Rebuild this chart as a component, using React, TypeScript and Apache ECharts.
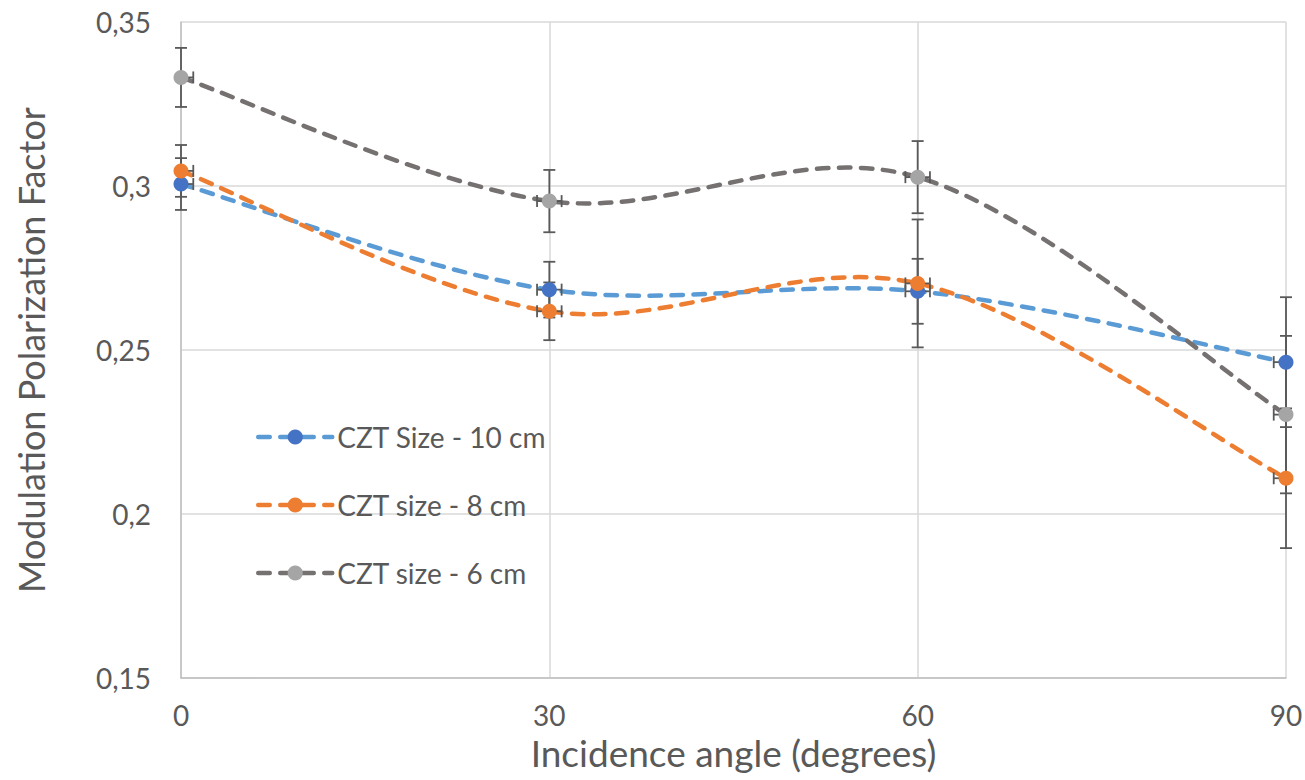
import React, { useEffect, useRef } from "react";
import * as echarts from "echarts";

// Incidence angles (degrees)
const angles = [0, 30, 60, 90];

// Modulation polarization factor per CZT size
const size10 = [0.3006, 0.2684, 0.2679, 0.2463];
const size8 = [0.3046, 0.2618, 0.2703, 0.2109];
const size6 = [0.3331, 0.2954, 0.3027, 0.2303];

// Vertical error (± factor)
const err10 = [0.0079, 0.0085, 0.0099, 0.0198];
const err8 = [0.0079, 0.0088, 0.0195, 0.0213];
const err6 = [0.009, 0.0095, 0.011, 0.024];

// Horizontal error (± degrees)
const angleErr = 1;

const seriesNames = ["CZT Size - 10 cm", "CZT size - 8 cm", "CZT size - 6 cm"];
const yTicks = [0.15, 0.2, 0.25, 0.3, 0.35];

const X_MIN = 0;
const X_MAX = 90;
const FONT = "Lato, 'Open Sans', sans-serif";
const TEXT = "#595959";
const DASH = [11.5, 10.5];
const LINE_W = 4.5;

// Smooth curve through the points (cardinal spline, tension 1/6, in pixel space)
function smoothPath(pts: number[][]): string {
  const n = pts.length;
  let d = `M${pts[0][0]},${pts[0][1]}`;
  for (let i = 0; i < n - 1; i++) {
    const p0 = pts[Math.max(i - 1, 0)];
    const p1 = pts[i];
    const p2 = pts[i + 1];
    const p3 = pts[Math.min(i + 2, n - 1)];
    const c1x = p1[0] + (p2[0] - p0[0]) / 6;
    const c1y = p1[1] + (p2[1] - p0[1]) / 6;
    const c2x = p2[0] - (p3[0] - p1[0]) / 6;
    const c2y = p2[1] - (p3[1] - p1[1]) / 6;
    d += ` C${c1x},${c1y} ${c2x},${c2y} ${p2[0]},${p2[1]}`;
  }
  return d;
}

function curveSeries(name: string, values: number[], color: string) {
  return {
    type: "custom",
    name,
    z: 2,
    clip: false,
    silent: true,
    data: angles.map((a, i) => [a, values[i]]),
    encode: { x: 0, y: 1 },
    renderItem: (params: any, api: any) => {
      if (params.dataIndex !== 0) return null;
      const pts = angles.map((a, i) => api.coord([a, values[i]]));
      return {
        type: "path",
        shape: { pathData: smoothPath(pts) },
        style: {
          fill: "none",
          stroke: color,
          lineWidth: LINE_W,
          lineDash: DASH,
          lineCap: "round",
        },
      };
    },
  };
}

function errorSeries(name: string, values: number[], errs: number[]) {
  return {
    type: "custom",
    name,
    z: 3,
    clip: false,
    silent: true,
    data: angles.map((a, i) => [a, values[i], errs[i]]),
    encode: { x: 0, y: 1 },
    renderItem: (params: any, api: any) => {
      const x = api.value(0);
      const y = api.value(1);
      const e = api.value(2);
      const top = api.coord([x, y + e]);
      const bot = api.coord([x, y - e]);
      const lo = Math.max(x - angleErr, X_MIN);
      const hi = Math.min(x + angleErr, X_MAX);
      const left = api.coord([lo, y]);
      const right = api.coord([hi, y]);
      const cap = 6;
      const style = { stroke: "#595959", lineWidth: 1.8 };
      const seg = (x1: number, y1: number, x2: number, y2: number) => ({
        type: "line",
        shape: { x1, y1, x2, y2 },
        style,
      });
      const children: any[] = [
        seg(top[0], top[1], bot[0], bot[1]),
        seg(top[0] - cap, top[1], top[0] + cap, top[1]),
        seg(bot[0] - cap, bot[1], bot[0] + cap, bot[1]),
        seg(left[0], left[1], right[0], right[1]),
      ];
      if (x - angleErr >= X_MIN) children.push(seg(left[0], left[1] - cap, left[0], left[1] + cap));
      if (x + angleErr <= X_MAX) children.push(seg(right[0], right[1] - cap, right[0], right[1] + cap));
      return { type: "group", children };
    },
  };
}

function markerSeries(name: string, values: number[], color: string) {
  return {
    type: "line",
    name,
    z: 4,
    data: angles.map((a, i) => [a, values[i]]),
    symbol: "circle",
    symbolSize: 15,
    showSymbol: true,
    itemStyle: { color, borderWidth: 0 },
    lineStyle: { width: 0, opacity: 0 },
    silent: true,
  };
}

const lineColors = ["#5B9BD5", "#ED7D31", "#767171"];
const markerColors = ["#4472C4", "#ED7D31", "#A5A5A5"];
const allValues = [size10, size8, size6];
const allErrs = [err10, err8, err6];

export default function App() {
  const ref = useRef<HTMLDivElement>(null);

  useEffect(() => {
    if (!ref.current) return;
    const chart = echarts.init(ref.current, undefined, { renderer: "svg" });

    const markers = seriesNames.map((n, i) => markerSeries(n, allValues[i], markerColors[i]));
    const curves = seriesNames.map((n, i) => curveSeries(n, allValues[i], lineColors[i]));
    const errors = seriesNames.map((n, i) => errorSeries(n, allValues[i], allErrs[i]));

    chart.setOption({
      animation: false,
      backgroundColor: "#ffffff",
      textStyle: { fontFamily: FONT },
      grid: {
        left: 181,
        right: 19,
        top: 22,
        bottom: 102,
        containLabel: false,
        outerBoundsMode: "none",
      },
      legend: {
        show: true,
        orient: "vertical",
        left: 256,
        top: 423,
        padding: 0,
        itemWidth: 74,
        itemHeight: 19,
        itemGap: 40,
        selectedMode: false,
        textStyle: { color: TEXT, fontSize: 28, fontFamily: FONT },
        data: seriesNames.map((n, i) => ({
          name: n,
          lineStyle: {
            color: lineColors[i],
            width: LINE_W,
            type: DASH,
            cap: "round",
            opacity: 1,
          },
          itemStyle: { color: markerColors[i], borderWidth: 0 },
        })),
      },
      xAxis: {
        type: "value",
        min: X_MIN,
        max: X_MAX,
        interval: 30,
        name: "Incidence angle (degrees)",
        nameLocation: "middle",
        nameGap: 52,
        nameTextStyle: { color: TEXT, fontSize: 37, lineHeight: 38, fontFamily: FONT },
        axisLine: { show: true, lineStyle: { color: "#BFBFBF", width: 1.5 } },
        axisTick: { show: false },
        axisLabel: { color: TEXT, fontSize: 28, lineHeight: 24, margin: 25, fontFamily: FONT },
        splitLine: { show: true, lineStyle: { color: "#D9D9D9", width: 1.5 } },
      },
      yAxis: {
        type: "value",
        min: yTicks[0],
        max: yTicks[yTicks.length - 1],
        interval: 0.05,
        name: "Modulation Polarization Factor",
        nameLocation: "middle",
        nameGap: 132,
        nameRotate: 90,
        nameTextStyle: { color: TEXT, fontSize: 36, fontFamily: FONT },
        axisLine: { show: true, lineStyle: { color: "#BFBFBF", width: 1.5 } },
        axisTick: { show: false },
        axisLabel: {
          color: TEXT,
          fontSize: 28,
          margin: 30,
          fontFamily: FONT,
          formatter: (v: number) => String(Math.round(v * 100) / 100).replace(".", ","),
        },
        splitLine: { show: true, lineStyle: { color: "#D9D9D9", width: 1.5 } },
      },
      series: [...markers, ...curves, ...errors],
    });

    return () => chart.dispose();
  }, []);

  return (
    <div
      ref={ref}
      style={{ position: "fixed", left: 0, top: 0, width: 1305, height: 780, background: "#fff" }}
    />
  );
}
